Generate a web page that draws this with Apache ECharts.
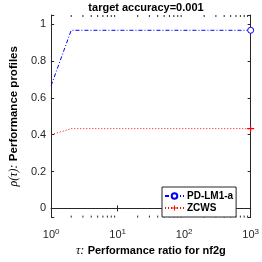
<!DOCTYPE html>
<html><head><meta charset="utf-8">
<script src="https://cdn.jsdelivr.net/npm/echarts@6/dist/echarts.min.js"></script>
<style>html,body{margin:0;padding:0;background:#fff}#c{width:262px;height:262px}</style>
</head><body><div id="c"></div>
<script>
const titleText = 'target accuracy=0.001';
const seriesNames = ['PD-LM1-a', 'ZCWS'];
const tauBlue = [1, 2, 1000];
const rhoBlue = [0.667, 0.967, 0.967];
const tauRed = [1, 2, 1000];
const rhoRed = [0.4, 0.433, 0.433];
const yTicks = [0, 0.2, 0.4, 0.6, 0.8, 1];
const xMajor = [1, 10, 100, 1000];
const xMinor = [2,3,4,5,6,7,8,9,20,30,40,50,60,70,80,90,200,300,400,500,600,700,800,900];

const axisCol = '#262626';
const font = 'Liberation Sans, Arial, Helvetica, sans-serif';
const serif = 'Liberation Serif, DejaVu Serif, serif';

function mk(xs, ys) { return xs.map((x, i) => ({ value: [x, ys[i]], symbol: i === xs.length - 1 ? undefined : 'none' })); }

const chart = echarts.init(document.getElementById('c'), null, { renderer: 'canvas' });
const logAxisBase = {
  type: 'log', logBase: 10, min: 1, max: 1000,
  axisLine: { show: true, lineStyle: { color: axisCol, width: 1 } },
  axisTick: { show: true, inside: true, length: 3, lineStyle: { color: axisCol } },
  splitLine: { show: false }, minorTick: { show: false }
};
const valAxisBase = {
  type: 'value', min: -0.05, max: 1.05, splitNumber: 5,
  axisLine: { show: true, lineStyle: { color: axisCol, width: 1 } },
  axisTick: { show: true, inside: true, length: 3, lineStyle: { color: axisCol } },
  splitLine: { show: false }
};
chart.setOption({
  animation: false,
  backgroundColor: '#fff',
  title: { text: titleText, left: 141, textAlign: 'center', top: -3,
    textStyle: { fontFamily: font, fontWeight: 'bold', fontSize: 11, color: '#000' } },
  grid: { left: 29, right: 7, top: 15, bottom: 38 },
  legend: {
    orient: 'vertical', left: 162, top: 187, padding: [4, 3, 4, 2], itemGap: 2,
    itemWidth: 19, itemHeight: 7,
    backgroundColor: '#fff', borderColor: axisCol, borderWidth: 1, borderRadius: 0,
    textStyle: { fontFamily: font, fontWeight: 'bold', fontSize: 10, color: '#000', padding: [0, 0, 0, -2] },
    data: seriesNames
  },
  xAxis: [
    Object.assign({}, logAxisBase, {
      position: 'bottom',
      axisLabel: { margin: 10, color: axisCol, fontFamily: font, fontSize: 11,
        formatter: v => '10{s|' + Math.round(Math.log10(v)) + '}',
        rich: { s: { fontSize: 8, verticalAlign: 'top', padding: [0,0,6,0], fontFamily: font, color: axisCol } } },
      name: '{t|τ:} {b|Performance ratio for nf2g}', nameLocation: 'middle', nameGap: 23,
      nameTextStyle: { rich: {
        t: { fontFamily: serif, fontStyle: 'italic', fontSize: 12, color: '#000' },
        b: { fontFamily: font, fontWeight: 'bold', fontSize: 11, color: '#000' } } }
    }),
    Object.assign({}, logAxisBase, { position: 'top', axisLabel: { show: false } })
  ],
  yAxis: [
    Object.assign({}, valAxisBase, {
      position: 'left',
      axisLabel: { margin: 5, color: axisCol, fontFamily: font, fontSize: 11,
        formatter: v => { const r = Math.round(v * 10) / 10; return yTicks.some(t => Math.abs(t - v) < 1e-6) ? String(r) : ''; } },
      name: '{r|ρ(τ):} {b|Performance profiles}', nameLocation: 'middle', nameGap: 13, nameRotate: 90,
      nameTextStyle: { rich: {
        r: { fontFamily: serif, fontStyle: 'italic', fontSize: 12, color: '#000' },
        b: { fontFamily: font, fontWeight: 'bold', fontSize: 11.5, color: '#000' } } }
    }),
    Object.assign({}, valAxisBase, { position: 'right', axisLabel: { show: false } })
  ],
  series: [
    {
      name: seriesNames[0], type: 'line', xAxisIndex: 0, yAxisIndex: 0,
      data: mk(tauBlue, rhoBlue), symbol: 'circle', symbolSize: 6, showAllSymbol: true,
      itemStyle: { color: '#fff', borderColor: '#0000ff', borderWidth: 1 },
      lineStyle: { color: '#0000ff', width: 1, type: [4, 2, 1, 2] }, z: 3
    },
    {
      name: seriesNames[1], type: 'line', xAxisIndex: 0, yAxisIndex: 0,
      data: mk(tauRed, rhoRed),
      symbol: 'path://M-0.15,-1H0.15V1H-0.15Z M-1,-0.15H1V0.15H-1Z', symbolSize: 7, showAllSymbol: true,
      itemStyle: { color: '#ff0000', borderWidth: 0 },
      lineStyle: { color: '#ff0000', width: 1, type: [1, 2] }, z: 3
    },
    {
      type: 'custom', xAxisIndex: 0, yAxisIndex: 0, silent: true, clip: false,
      data: xMinor,
      renderItem: function (params, api) {
        const v = api.value(0);
        const b = api.coord([v, -0.05]);
        const t = api.coord([v, 1.05]);
        return { type: 'group', children: [
          { type: 'line', shape: { x1: b[0], y1: b[1], x2: b[0], y2: b[1] - 2 }, style: { stroke: axisCol, lineWidth: 1 } },
          { type: 'line', shape: { x1: t[0], y1: t[1], x2: t[0], y2: t[1] + 2 }, style: { stroke: axisCol, lineWidth: 1 } }
        ] };
      }
    }
  ]
});
</script></body></html>
